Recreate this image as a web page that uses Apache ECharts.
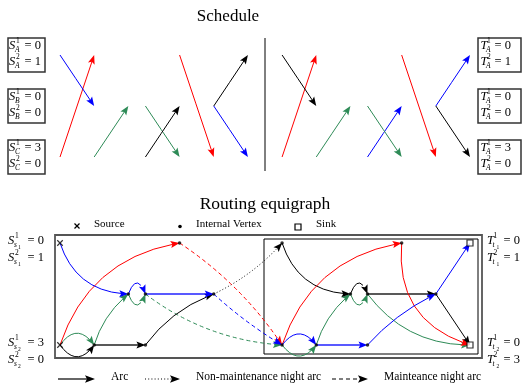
<!DOCTYPE html>
<html>
<head>
<meta charset="utf-8">
<script src="https://cdn.jsdelivr.net/npm/echarts@6/dist/echarts.min.js"></script>
<style>
  html, body { margin: 0; padding: 0; background: #fff; }
  #chart { width: 522px; height: 383px; }
</style>
</head>
<body>
<div id="chart"></div>
<script>
var stations = ['A', 'B', 'C'];

// schedule trips: [depart time, from station, arrive time, to station]
var schedRed = [[0, 'C', 1, 'A'], [3.5, 'A', 4.5, 'C'], [6.5, 'C', 7.5, 'A'], [10, 'A', 11, 'C']];
var schedBlue = [[0, 'A', 1, 'B'], [4.5, 'B', 5.5, 'C'], [9, 'C', 10, 'B'], [11, 'B', 12, 'A']];
var schedGreen = [[1, 'C', 2, 'B'], [2.5, 'B', 3.5, 'C'], [7.5, 'C', 8.5, 'B'], [9, 'B', 10, 'C']];
var schedBlack = [[2.5, 'C', 3.5, 'B'], [4.5, 'B', 5.5, 'A'], [6.5, 'A', 7.5, 'B'], [11, 'B', 12, 'C']];

// start / end counts per station (type 1, type 2)
var startCounts = [[0, 1], [0, 0], [3, 0]];
var endCounts = [[0, 1], [0, 0], [3, 0]];

// routing equigraph vertices
var nodeNames = ['s1', 's2', 'q1', 'p1', 'p2', 'q2', 'r1', 'm1', 'k1', 'b0', 'b1', 'n1', 'n2', 'b2', 'r2', 'n3', 't1', 't2'];
var nodeTimes = [0, 0, 1, 2, 2.5, 2.5, 3.5, 4.5, 6.5, 6.5, 7.5, 8.5, 9, 9, 10, 11, 12, 12];
var nodeLevels = [0, 2, 2, 1, 1, 2, 0, 1, 0, 2, 2, 1, 1, 2, 0, 1, 0, 2];
var sources = ['s1', 's2'];
var sinks = ['t1', 't2'];
var sourceCounts = [[0, 1], [3, 0]];
var sinkCounts = [[0, 1], [0, 3]];

// routing arcs per vehicle: [from, to, bend, kind]  kind: arc / night / maint
var routeRed = [['s2', 'r1', 0.3, 'arc'], ['r1', 'b0', 0.1, 'maint'], ['b0', 'r2', 0.3, 'arc'], ['r2', 't2', -0.4, 'arc']];
var routeBlue = [['s1', 'p1', -0.35, 'arc'], ['p1', 'p2', 1.3, 'arc'], ['p2', 'm1', 0, 'arc'], ['m1', 'b0', -0.05, 'maint'],
  ['b0', 'b1', 0.65, 'arc'], ['b1', 'b2', 0, 'arc'], ['b2', 'n3', 0.1, 'arc'], ['n3', 't1', 0, 'arc']];
var routeGreen = [['s2', 'q1', 0.69, 'arc'], ['q1', 'p1', 0.15, 'arc'], ['p1', 'p2', -1.3, 'arc'], ['p2', 'b0', -0.15, 'maint'],
  ['b0', 'b1', -0.65, 'arc'], ['b1', 'n1', 0.15, 'arc'], ['n1', 'n2', -1.3, 'arc'], ['n2', 't2', -0.25, 'arc']];
var routeBlack = [['s2', 'q1', -0.69, 'arc'], ['q1', 'q2', 0, 'arc'], ['q2', 'm1', 0.15, 'arc'], ['m1', 'k1', -0.1, 'night'],
  ['k1', 'n1', -0.35, 'arc'], ['n1', 'n2', 1.3, 'arc'], ['n2', 'n3', 0, 'arc'], ['n3', 't2', 0, 'arc']];

var kinds = ['arc', 'night', 'maint'];
var SERIF = '"Liberation Serif", "DejaVu Serif", serif';

function nodeAt(name) {
  var i = nodeNames.indexOf(name);
  return [nodeTimes[i], nodeLevels[i]];
}

function schedData(trips) {
  return trips.map(function (t) {
    return [t[0], stations.indexOf(t[1]), t[2], stations.indexOf(t[3]), 0, 0];
  });
}

function routeData(arcs) {
  return arcs.map(function (a) {
    var p = nodeAt(a[0]), q = nodeAt(a[1]);
    return [p[0], p[1], q[0], q[1], a[2], kinds.indexOf(a[3])];
  });
}

function renderEdge(color) {
  return function (params, api) {
    var p0 = api.coord([api.value(0), api.value(1)]);
    var p1 = api.coord([api.value(2), api.value(3)]);
    var c = api.value(4), kind = api.value(5);
    var dx = p1[0] - p0[0], dy = p1[1] - p0[1];
    var cp = [(p0[0] + p1[0]) / 2 + c * dy, (p0[1] + p1[1]) / 2 - c * dx];
    var ux = p1[0] - cp[0], uy = p1[1] - cp[1];
    var len = Math.sqrt(ux * ux + uy * uy);
    ux /= len; uy /= len;
    var L = 9, W = 3.5;
    var bx = p1[0] - ux * L, by = p1[1] - uy * L;
    var nx = p1[0] - ux * L * 0.8, ny = p1[1] - uy * L * 0.8;
    // cut the curve a bit before the tip
    var chord = Math.sqrt(dx * dx + dy * dy);
    var t = 1 - Math.min(0.4, (L * 0.5) / chord);
    var c1 = [p0[0] + (cp[0] - p0[0]) * t, p0[1] + (cp[1] - p0[1]) * t];
    var c2 = [cp[0] + (p1[0] - cp[0]) * t, cp[1] + (p1[1] - cp[1]) * t];
    var e = [c1[0] + (c2[0] - c1[0]) * t, c1[1] + (c2[1] - c1[1]) * t];
    var flat = c === 0 && api.value(1) === api.value(3) && kind === 0 && params.seriesName.indexOf('route') === 0;
    var dash = kind === 1 ? [1, 2.2] : (kind === 2 ? [4, 3] : null);
    return {
      type: 'group',
      children: [{
        type: 'bezierCurve',
        shape: { x1: p0[0], y1: p0[1], x2: e[0], y2: e[1], cpx1: c1[0], cpy1: c1[1] },
        style: { stroke: color, fill: null, lineWidth: flat ? 2.2 : 1, lineDash: dash, opacity: flat ? 0.65 : 1 }
      }, {
        type: 'polygon',
        shape: { points: [[p1[0], p1[1]], [bx - uy * W, by + ux * W], [nx, ny], [bx + uy * W, by - ux * W]] },
        style: { fill: color }
      }]
    };
  };
}

function edgeSeries(name, grid, data, color) {
  return {
    name: name,
    type: 'custom',
    coordinateSystem: 'cartesian2d',
    xAxisIndex: grid,
    yAxisIndex: grid,
    clip: false,
    silent: true,
    encode: { x: [0, 2], y: [1, 3] },
    renderItem: renderEdge(color),
    data: data
  };
}

function txt(x, y, s, size, italic, align) {
  var a = align || 'left';
  return {
    type: 'text', x: x, y: y, silent: true, z: 20,
    style: {
      text: s, font: (italic ? 'italic ' : '') + size + 'px ' + SERIF, fill: '#000',
      align: a, verticalAlign: 'middle', textAlign: a, textVerticalAlign: 'middle'
    }
  };
}

function mathLabel(x, y, base, sup, sub, subIdx, rhs, rhsDx) {
  var bw = base === 'T' ? 6.5 : 7;
  var els = [txt(x, y, base, 12.5, true)];
  els.push(txt(x + bw, y - 5, sup, 7.5, false));
  els.push(txt(x + bw - 1, y + 4.5, sub, 7.5, true));
  if (subIdx) els.push(txt(x + bw + 3, y + 6.5, subIdx, 5.5, false));
  els.push(txt(x + rhsDx, y, rhs, 12.5, false));
  return els;
}

function legendArrow(x0, x1, y, dash) {
  return [{
    type: 'line', silent: true,
    shape: { x1: x0, y1: y, x2: x1 - 7, y2: y },
    style: { stroke: '#000', lineWidth: 1.2, lineDash: dash }
  }, {
    type: 'polygon', silent: true,
    shape: { points: [[x1, y], [x1 - 10, y - 3.8], [x1 - 8, y], [x1 - 10, y + 3.8]] },
    style: { fill: '#000' }
  }];
}

var graphics = [];
graphics.push(txt(228, 17, 'Schedule', 17, false, 'center'));
graphics.push(txt(265, 204, 'Routing equigraph', 17.5, false, 'center'));
graphics.push({ type: 'line', silent: true, shape: { x1: 265, y1: 38, x2: 265, y2: 171 }, style: { stroke: '#000', lineWidth: 1 } });

stations.forEach(function (s, i) {
  var rowY = 55 + 51 * i;
  graphics.push({ type: 'rect', silent: true, shape: { x: 8, y: rowY - 17, width: 37, height: 34 }, style: { fill: null, stroke: '#333', lineWidth: 1.5 } });
  graphics.push({ type: 'rect', silent: true, shape: { x: 478, y: rowY - 17, width: 43, height: 34 }, style: { fill: null, stroke: '#333', lineWidth: 1.5 } });
  graphics = graphics.concat(mathLabel(9, rowY - 9, 'S', '1', s, null, '= ' + startCounts[i][0], 15.5));
  graphics = graphics.concat(mathLabel(9, rowY + 7, 'S', '2', s, null, '= ' + startCounts[i][1], 15.5));
  graphics = graphics.concat(mathLabel(480.5, rowY - 9, 'T', '1', 'A', null, '= ' + endCounts[i][0], 14));
  graphics = graphics.concat(mathLabel(480.5, rowY + 7, 'T', '2', 'A', null, '= ' + endCounts[i][1], 14));
});

sources.forEach(function (s, i) {
  var y = i === 0 ? 241 : 343;
  graphics = graphics.concat(mathLabel(8, y, 'S', '1', 's', String(i + 1), '= ' + sourceCounts[i][0], 19.5));
  graphics = graphics.concat(mathLabel(8, y + 17, 'S', '2', 's', String(i + 1), '= ' + sourceCounts[i][1], 19.5));
});
sinks.forEach(function (s, i) {
  var y = i === 0 ? 241 : 343;
  graphics = graphics.concat(mathLabel(487, y, 'T', '1', 't', String(i + 1), '= ' + sinkCounts[i][0], 16.5));
  graphics = graphics.concat(mathLabel(487, y + 17, 'T', '2', 't', String(i + 1), '= ' + sinkCounts[i][1], 16.5));
});

// frames of the routing graph
graphics.push({ type: 'rect', silent: true, shape: { x: 55, y: 235, width: 427, height: 123 }, style: { fill: null, stroke: '#555', lineWidth: 1.8 } });
graphics.push({ type: 'rect', silent: true, shape: { x: 264, y: 239, width: 214, height: 115 }, style: { fill: null, stroke: '#000', lineWidth: 1 } });

// top legend
graphics.push({ type: 'line', silent: true, shape: { x1: 74.5, y1: 223.5, x2: 79.5, y2: 228.5 }, style: { stroke: '#000', lineWidth: 1.2 } });
graphics.push({ type: 'line', silent: true, shape: { x1: 79.5, y1: 223.5, x2: 74.5, y2: 228.5 }, style: { stroke: '#000', lineWidth: 1.2 } });
graphics.push(txt(94, 224, 'Source', 11));
graphics.push({ type: 'circle', silent: true, shape: { cx: 180, cy: 226.5, r: 1.8 }, style: { fill: '#000' } });
graphics.push(txt(196, 224, 'Internal Vertex', 11));
graphics.push({ type: 'rect', silent: true, shape: { x: 295, y: 224, width: 6, height: 6 }, style: { fill: '#fff', stroke: '#000', lineWidth: 1.2 } });
graphics.push(txt(316, 224, 'Sink', 11));

// bottom legend
graphics = graphics.concat(legendArrow(58, 95, 379, null));
graphics.push(txt(111, 377, 'Arc', 11.5));
graphics = graphics.concat(legendArrow(145, 180, 379, [1, 2.2]));
graphics.push(txt(196, 377, 'Non-maintenance night arc', 11.5));
graphics = graphics.concat(legendArrow(332, 368, 379, [4, 3]));
graphics.push(txt(384, 377, 'Mainteance night arc', 11.5));

var colors = { red: '#ff0000', blue: '#0000ff', green: '#2e8b57', black: '#000000' };

var series = [
  edgeSeries('schedRed', 0, schedData(schedRed), colors.red),
  edgeSeries('schedBlue', 0, schedData(schedBlue), colors.blue),
  edgeSeries('schedGreen', 0, schedData(schedGreen), colors.green),
  edgeSeries('schedBlack', 0, schedData(schedBlack), colors.black),
  edgeSeries('routeGreen', 1, routeData(routeGreen), colors.green),
  edgeSeries('routeBlack', 1, routeData(routeBlack), colors.black),
  edgeSeries('routeRed', 1, routeData(routeRed), colors.red),
  edgeSeries('routeBlue', 1, routeData(routeBlue), colors.blue),
  {
    name: 'Internal Vertex', type: 'scatter', xAxisIndex: 1, yAxisIndex: 1, silent: true,
    symbol: 'circle', symbolSize: 3.5, itemStyle: { color: '#000' },
    data: nodeNames.filter(function (n) { return sources.indexOf(n) < 0 && sinks.indexOf(n) < 0; }).map(nodeAt)
  },
  {
    name: 'Source', type: 'scatter', xAxisIndex: 1, yAxisIndex: 1, silent: true,
    symbol: 'path://M0,0L10,10M10,0L0,10', symbolSize: 5.5,
    itemStyle: { color: 'none', borderColor: '#000', borderWidth: 1.2 },
    data: sources.map(nodeAt)
  },
  {
    name: 'Sink', type: 'scatter', xAxisIndex: 1, yAxisIndex: 1, silent: true, z: 5,
    symbol: 'rect', symbolSize: 6,
    itemStyle: { color: '#fff', borderColor: '#000', borderWidth: 1.2 },
    data: sinks.map(nodeAt)
  }
];

var chart = echarts.init(document.getElementById('chart'));
chart.setOption({
  animation: false,
  backgroundColor: '#fff',
  grid: [
    { left: 60, top: 55, width: 410, height: 102 },
    { left: 60, top: 243, width: 410, height: 102 }
  ],
  xAxis: [
    { gridIndex: 0, type: 'value', min: 0, max: 12, show: false },
    { gridIndex: 1, type: 'value', min: 0, max: 12, show: false }
  ],
  yAxis: [
    { gridIndex: 0, type: 'value', min: 0, max: 2, inverse: true, show: false },
    { gridIndex: 1, type: 'value', min: 0, max: 2, inverse: true, show: false }
  ],
  graphic: { elements: graphics },
  series: series
});
</script>
</body>
</html>
